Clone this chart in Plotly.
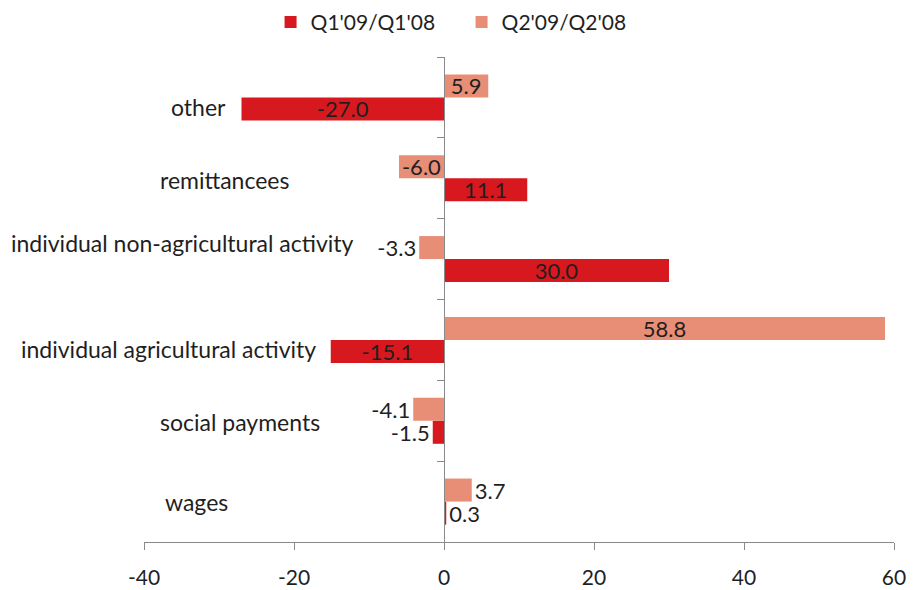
import plotly.graph_objects as go

categories = ["wages", "social payments", "individual agricultural activity",
              "individual non-agricultural activity", "remittancees", "other"]
q1_values = [0.3, -1.5, -15.1, 30.0, 11.1, -27.0]
q2_values = [3.7, -4.1, 58.8, -3.3, -6.0, 5.9]
series_names = ["Q1'09/Q1'08", "Q2'09/Q2'08"]
x_ticks = [-40, -20, 0, 20, 40, 60]

# label placement (style only)
q1_textpos = ["outside", "outside", "inside", "inside", "inside", "inside"]
q2_textpos = ["outside", "outside", "inside", "outside", "inside", "inside"]
cat_label_x = [-28.6, -16.3, -16.8, -11.7, -20.3, -28.8]
cat_label_yshift = [0, -1, -9, 16, -2, -10]

FONT = "Lato"
TXT = "#1f1f1f"
RED = "#D7191F"
SALMON = "#E98E76"

fig = go.Figure()
fig.add_trace(go.Bar(
    y=categories, x=q1_values, orientation="h", name=series_names[0],
    marker=dict(color=RED, line=dict(width=0)),
    text=[f"{v:.1f}" for v in q1_values], textposition=q1_textpos,
    insidetextanchor="middle", textfont=dict(family=FONT, size=22, color=TXT),
    cliponaxis=False,
))
fig.add_trace(go.Bar(
    y=categories, x=q2_values, orientation="h", name=series_names[1],
    marker=dict(color=SALMON, line=dict(width=0)),
    text=[f"{v:.1f}" for v in q2_values], textposition=q2_textpos,
    insidetextanchor="middle", textfont=dict(family=FONT, size=22, color=TXT),
    cliponaxis=False,
))

for c, xv, ys in zip(categories, cat_label_x, cat_label_yshift):
    fig.add_annotation(x=xv, y=c, xref="x", yref="y", text=c, showarrow=False,
                       xanchor="right", yanchor="middle", yshift=ys,
                       font=dict(family=FONT, size=23, color=TXT))

fig.update_layout(
    width=914, height=590,
    margin=dict(l=144, r=20, t=57, b=48, autoexpand=False),
    paper_bgcolor="white", plot_bgcolor="white",
    barmode="group", bargap=0.43, bargroupgap=0,
    font=dict(family=FONT, size=21, color=TXT),
    uniformtext=dict(minsize=22, mode="show"),
    showlegend=True,
    legend=dict(orientation="h", xref="container", yref="container",
                x=0.505, xanchor="center", y=0.997, yanchor="top",
                font=dict(family=FONT, size=21, color=TXT),
                traceorder="normal", entrywidth=146, entrywidthmode="pixels"),
    xaxis=dict(range=[-40, 60], tickvals=x_ticks, ticktext=[str(t) for t in x_ticks],
               showgrid=False, zeroline=False, showline=True, linecolor="#8a8a8a",
               linewidth=1, ticks="outside", ticklen=7, tickcolor="#8a8a8a",
               tickfont=dict(family=FONT, size=21, color=TXT), ticklabelstandoff=10,
               automargin=False),
    yaxis=dict(categoryorder="array", categoryarray=categories,
               showticklabels=False, showgrid=False, zeroline=False,
               showline=True, linecolor="#8a8a8a", linewidth=1,
               ticks="outside", tickson="boundaries", ticklen=7, tickcolor="#8a8a8a",
               anchor="free", position=0.4, automargin=False),
)

fig.write_html("out.html", config={"displayModeBar": False},
               post_script="document.body.style.margin='0';document.body.style.overflow='hidden';")
